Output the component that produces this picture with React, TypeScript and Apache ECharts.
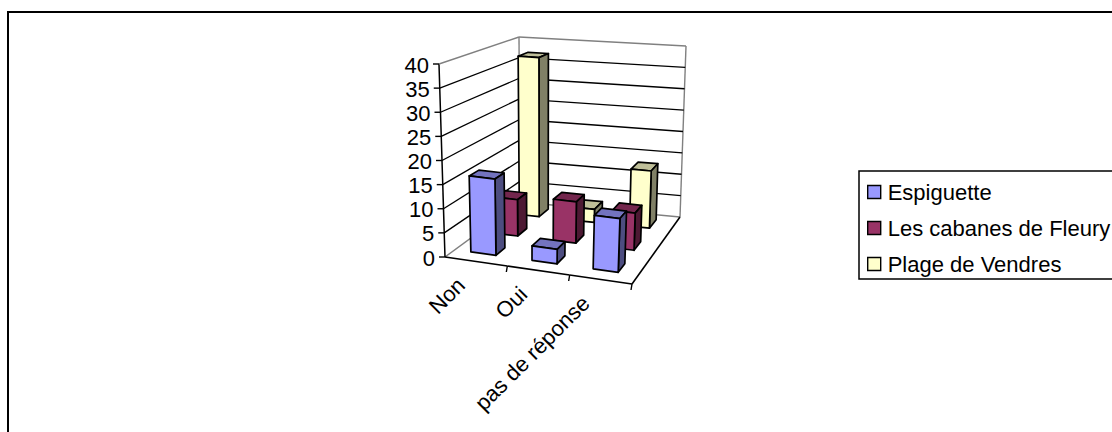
import React, { useEffect, useRef } from "react";
import * as echarts from "echarts";

const categories = ["Non", "Oui", "pas de réponse"];
const yTicks = [0, 5, 10, 15, 20, 25, 30, 35, 40];
const espiguette = [16, 3, 11];
const cabanes = [8, 9, 8];
const plage = [37, 3, 13];

const FONT = "'Liberation Sans', Arial, sans-serif";
const Y_MAX = 40;

// Screen corners of the chart's 3D box: [u (along categories), d (depth), h (height)]
const box = {
  f0: [445, 257], f1: [632, 284], b0: [520, 202], b1: [680, 217],
  ft0: [439, 64], ft1: [640, 84], bt0: [519, 37], bt1: [686, 46],
};
const mix = (a: number[], b: number[], t: number) => [a[0] + (b[0] - a[0]) * t, a[1] + (b[1] - a[1]) * t];
const project = (u: number, d: number, h: number) => {
  const low = mix(mix(box.f0, box.f1, u), mix(box.b0, box.b1, u), d);
  const high = mix(mix(box.ft0, box.ft1, u), mix(box.bt0, box.bt1, u), d);
  return mix(low, high, h);
};

// axis coordinates -> normalised box coordinates
const norm = (api: any, params: any, cat: number, val: number) => {
  const cs = params.coordSys;
  const p = api.coord([cat, val]);
  return { u: (p[0] - cs.x) / cs.width, h: 1 - (p[1] - cs.y) / cs.height };
};

const BAR_START = -0.24;
const BAR_WIDTH = [0.41, 0.39, 0.36];
const BAR_DEPTH = 0.13;
const ROW_START = [0.133, 0.466, 0.8];

const lineEl = (a: number[], b: number[], stroke: string, lineWidth = 1) => ({
  type: "line",
  shape: { x1: a[0], y1: a[1], x2: b[0], y2: b[1] },
  style: { stroke, lineWidth, fill: "none" },
  silent: true,
});

const barSeries = (name: string, values: number[], row: number, colors: string[], z: number) => ({
  type: "custom",
  name,
  z,
  clip: false,
  silent: true,
  coordinateSystem: "cartesian2d",
  itemStyle: { color: colors[0] },
  encode: { x: 0, y: 1 },
  data: values.map((v, i) => [i, v]),
  renderItem: (params: any, api: any) => {
    const { u, h } = norm(api, params, api.value(0), api.value(1));
    const band = api.size([1, 0])[0] / params.coordSys.width;
    const u0 = u + BAR_START * band;
    const u1 = u0 + BAR_WIDTH[row] * band;
    const d0 = ROW_START[row];
    const d1 = d0 + BAR_DEPTH;
    const face = (pts: number[][], fill: string) => ({
      type: "polygon",
      shape: { points: pts },
      style: { fill, stroke: "#000", lineWidth: 1.7, lineJoin: "round" },
      silent: true,
    });
    return {
      type: "group",
      children: [
        face([project(u0, d1, h), project(u1, d1, h), project(u1, d0, h), project(u0, d0, h)], colors[1]),
        face([project(u1, d0, 0), project(u1, d1, 0), project(u1, d1, h), project(u1, d0, h)], colors[2]),
        face([project(u0, d0, 0), project(u1, d0, 0), project(u1, d0, h), project(u0, d0, h)], colors[0]),
      ],
    };
  },
});

const wallSeries = {
  type: "custom",
  name: "walls",
  z: 1,
  clip: false,
  silent: true,
  coordinateSystem: "cartesian2d",
  encode: { x: 0, y: 1 },
  data: yTicks.map((t) => [0, t]),
  renderItem: (params: any, api: any) => {
    const { h } = norm(api, params, 0, api.value(1));
    const v = api.value(1);
    const edge = v === 0 || v === Y_MAX;
    const color = edge ? "#808080" : "#000";
    const w = edge ? 1.4 : 1.3;
    const a = project(0, 0, h);
    const children: any[] = [
      lineEl(a, project(0, 1, h), color, w),
      lineEl(project(0, 1, h), project(1, 1, h), color, w),
      lineEl(a, [a[0] - 6, a[1]], "#000", 1.4),
      {
        type: "text",
        x: a[0] - 10,
        y: a[1] + 1,
        silent: true,
        style: { text: String(v), fontFamily: FONT, fontSize: 22, fill: "#000", textAlign: "right", textVerticalAlign: "middle" },
      },
    ];
    if (v === 0) {
      children.push(
        lineEl(project(0, 0, 0), project(0, 0, 1), "#000", 1.5),
        lineEl(project(0, 1, 0), project(0, 1, 1), "#808080", 1.4),
        lineEl(project(1, 1, 0), project(1, 1, 1), "#808080", 1.4),
      );
    }
    return { type: "group", children };
  },
};

const floorSeries = {
  type: "custom",
  name: "floor",
  z: 6,
  clip: false,
  silent: true,
  coordinateSystem: "cartesian2d",
  encode: { x: 0, y: 1 },
  data: categories.map((_, i) => [i, 0]),
  renderItem: (params: any, api: any) => {
    const i = api.value(0);
    const { u } = norm(api, params, i, 0);
    const band = api.size([1, 0])[0] / params.coordSys.width;
    const uEnd = u + band / 2;
    const t = project(uEnd, 0, 0);
    const c = project(u, 0, 0);
    const children: any[] = [
      lineEl(project(u - band / 2, 0, 0), t, "#000", 1.6),
      lineEl(t, [t[0] - 1, t[1] + 6], "#000", 1.4),
      {
        type: "text",
        x: c[0] - 15,
        y: c[1] + 20,
        rotation: Math.PI / 4,
        silent: true,
        style: { text: categories[i], fontFamily: FONT, fontSize: 22, fill: "#000", textAlign: "right", textVerticalAlign: "middle" },
      },
    ];
    if (i === categories.length - 1) children.push(lineEl(project(1, 0, 0), project(1, 1, 0), "#000", 1.6));
    return { type: "group", children };
  },
};

export default function App() {
  const ref = useRef<HTMLDivElement>(null);
  useEffect(() => {
    const chart = echarts.init(ref.current!, null, { renderer: "svg" });
    chart.setOption({
      animation: false,
      backgroundColor: "#fff",
      grid: { left: 100, top: 100, width: 300, height: 200, show: false },
      xAxis: { type: "category", data: categories, show: false },
      yAxis: { type: "value", min: 0, max: Y_MAX, interval: 5, show: false },
      graphic: [
        {
          type: "rect",
          z: 0,
          silent: true,
          shape: { x: 8, y: 12, width: 1300, height: 600 },
          style: { fill: "none", stroke: "#000", lineWidth: 2 },
        },
      ],
      legend: {
        left: 859,
        top: 171,
        orient: "vertical",
        borderColor: "#000",
        borderWidth: 1.5,
        backgroundColor: "#fff",
        padding: [10, 20, 4, 8],
        itemWidth: 13,
        itemHeight: 13,
        itemGap: 14,
        selectedMode: false,
        icon: "rect",
        itemStyle: { borderColor: "#000", borderWidth: 1.4 },
        textStyle: { fontFamily: FONT, fontSize: 22, color: "#000", padding: [0, 0, 0, 2] },
        data: ["Espiguette", "Les cabanes de Fleury", "Plage de Vendres"],
      },
      series: [
        wallSeries,
        barSeries("Plage de Vendres", plage, 2, ["#FFFFCC", "#BFBF99", "#808066"], 2),
        barSeries("Les cabanes de Fleury", cabanes, 1, ["#993366", "#73264D", "#4D1933"], 3),
        barSeries("Espiguette", espiguette, 0, ["#9999FF", "#7373BF", "#4D4D80"], 4),
        floorSeries,
      ],
    });
    return () => chart.dispose();
  }, []);
  return <div ref={ref} style={{ position: "fixed", left: 0, top: 0, width: 1112, height: 432, overflow: "hidden" }} />;
}
